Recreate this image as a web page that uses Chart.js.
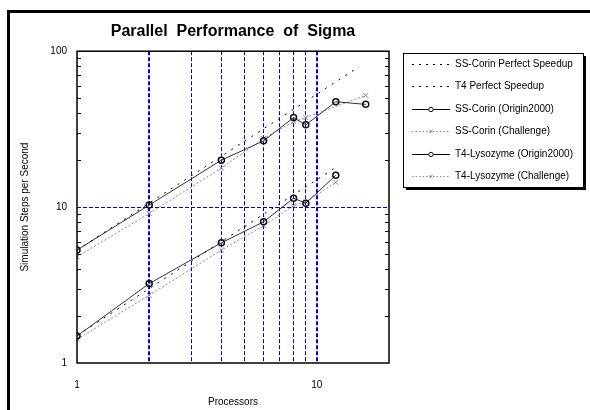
<!DOCTYPE html>
<html>
<head>
<meta charset="utf-8">
<script src="https://cdn.jsdelivr.net/npm/chart.js@4.4.1/dist/chart.umd.min.js"></script>
<style>
  html, body { margin: 0; padding: 0; background: #fff; }
  #wrap { width: 590px; height: 410px; position: relative; }
</style>
</head>
<body>
<div id="wrap"><canvas id="myChart"></canvas></div>
<script>
'use strict'

// processor counts for each run
const ssOriginProcs = [1, 2, 4, 6, 8, 9, 12, 16];
const ssChallengeProcs = [1, 2, 4, 6, 8, 9, 16];
const t4OriginProcs = [1, 2, 4, 6, 8, 9, 12];
const t4ChallengeProcs = [1, 2, 4, 6, 8, 9, 12];

// simulation steps per second
const ssOrigin = [5.3, 10.3, 20.0, 26.6, 37.5, 33.7, 47.4, 45.6];
const ssChallenge = [4.8, 9.1, 17.8, 27.5, 35.3, 37.5, 52.1];
const t4Origin = [1.49, 3.23, 5.9, 8.05, 11.4, 10.6, 16.0];
const t4Challenge = [1.42, 2.72, 5.3, 7.6, 10.2, 10.8, 14.4];

// perfect speedup lines (end points)
const ssPerfectProcs = [1, 15];
const ssPerfect = [5.3, 79.5];
const t4PerfectProcs = [1, 12];
const t4Perfect = [1.5, 18];

// axis ticks
const xTicks = [1, 2, 3, 4, 5, 6, 7, 8, 9, 10, 20];
const xLabels = [1, 10];
const yTicks = [1, 2, 3, 4, 5, 6, 7, 8, 9, 10, 20, 30, 40, 50, 60, 70, 80, 90, 100];
const yLabels = [1, 10, 100];
const yMinor = [2, 3, 4, 5, 6, 7, 8, 9, 20, 30, 40, 50, 60, 70, 80, 90];

const gridBlue = '#0000d8';
const fontName = '"Liberation Sans", Arial, sans-serif';

function points(xs, ys) {
  return xs.map((x, i) => ({ x: x, y: ys[i] }));
}

let datasets = [
  {
    label: 'SS-Corin Perfect Speedup',
    data: points(ssPerfectProcs, ssPerfect),
    borderColor: '#000', borderWidth: 1, borderDash: [2, 6],
    pointRadius: 0, legendKind: 'perfect'
  },
  {
    label: 'T4 Perfect Speedup',
    data: points(t4PerfectProcs, t4Perfect),
    borderColor: '#000', borderWidth: 1, borderDash: [2, 6],
    pointRadius: 0, legendKind: 'perfect'
  },
  {
    label: 'SS-Corin (Origin2000)',
    data: points(ssOriginProcs, ssOrigin),
    borderColor: '#333', borderWidth: 1,
    pointStyle: 'circle', pointRadius: 3, pointBorderWidth: 1.5,
    pointBorderColor: '#111', pointBackgroundColor: 'rgba(0,0,0,0)',
    legendKind: 'origin'
  },
  {
    label: 'SS-Corin (Challenge)',
    data: points(ssChallengeProcs, ssChallenge),
    borderColor: '#888', borderWidth: 1, borderDash: [2, 2],
    pointStyle: 'crossRot', pointRadius: 3.5, pointBorderWidth: 1,
    pointBorderColor: '#888', legendKind: 'challenge'
  },
  {
    label: 'T4-Lysozyme (Origin2000)',
    data: points(t4OriginProcs, t4Origin),
    borderColor: '#333', borderWidth: 1,
    pointStyle: 'circle', pointRadius: 3, pointBorderWidth: 1.5,
    pointBorderColor: '#111', pointBackgroundColor: 'rgba(0,0,0,0)',
    legendKind: 'origin'
  },
  {
    label: 'T4-Lysozyme (Challenge)',
    data: points(t4ChallengeProcs, t4Challenge),
    borderColor: '#888', borderWidth: 1, borderDash: [2, 2],
    pointStyle: 'crossRot', pointRadius: 3.5, pointBorderWidth: 1,
    pointBorderColor: '#888', legendKind: 'challenge'
  }
];

// frame, plot box, inner ticks and the boxed legend
const decorations = {
  id: 'decorations',
  beforeDraw(chart) {
    let ctx = chart.ctx;
    ctx.save();
    ctx.fillStyle = '#fff';
    ctx.fillRect(0, 0, chart.width, chart.height);
    ctx.strokeStyle = '#000';
    ctx.lineWidth = 3;
    ctx.strokeRect(8.5, 11.5, 700, 700);
    ctx.restore();
  },
  afterDraw(chart) {
    let ctx = chart.ctx;
    let area = chart.chartArea;
    let yScale = chart.scales.y;
    ctx.save();

    // plot box
    ctx.strokeStyle = '#000';
    ctx.lineWidth = 1.5;
    ctx.strokeRect(area.left, area.top, area.right - area.left, area.bottom - area.top);

    // minor ticks on both sides, pointing inward
    ctx.lineWidth = 1;
    ctx.beginPath();
    for (let i = 0; i < yMinor.length; i++) {
      let py = Math.round(yScale.getPixelForValue(yMinor[i])) + 0.5;
      ctx.moveTo(area.left, py);
      ctx.lineTo(area.left + 4, py);
      ctx.moveTo(area.right - 4, py);
      ctx.lineTo(area.right, py);
    }
    ctx.stroke();

    // legend box with shadow
    let bx = 403, by = 53, bw = 180, bh = 134;
    ctx.fillStyle = '#000';
    ctx.fillRect(bx + 3, by + 3, bw, bh);
    ctx.fillStyle = '#fff';
    ctx.fillRect(bx, by, bw, bh);
    ctx.strokeStyle = '#000';
    ctx.lineWidth = 1;
    ctx.strokeRect(bx + 0.5, by + 0.5, bw, bh);

    ctx.font = '10px ' + fontName;
    ctx.textBaseline = 'middle';
    ctx.textAlign = 'left';
    for (let i = 0; i < datasets.length; i++) {
      let ds = datasets[i];
      let ly = Math.round(64 + i * 22.4) + 0.5;
      ctx.save();
      ctx.strokeStyle = ds.borderColor;
      ctx.lineWidth = 1;
      if (ds.legendKind === 'perfect') ctx.setLineDash([2, 5]);
      else if (ds.legendKind === 'challenge') ctx.setLineDash([1.5, 2]);
      else ctx.setLineDash([]);
      if (ds.legendKind === 'origin') ctx.strokeStyle = '#000';
      ctx.beginPath();
      ctx.moveTo(412, ly);
      ctx.lineTo(450, ly);
      ctx.stroke();
      ctx.restore();
      if (ds.legendKind !== 'perfect') {
        ctx.save();
        ctx.fillStyle = '#fff';
        ctx.strokeStyle = ds.pointBorderColor;
        ctx.lineWidth = 1;
        Chart.helpers.drawPoint(ctx, {
          pointStyle: ds.pointStyle,
          radius: ds.legendKind === 'origin' ? 2.2 : 2.5,
          borderWidth: 1
        }, 431, ly);
        ctx.restore();
      }
      ctx.fillStyle = '#000';
      ctx.fillText(ds.label, 455, ly);
    }
    ctx.restore();
  }
};

const ctx = document.getElementById('myChart');

new Chart(ctx, {
  type: 'line',
  data: { datasets: datasets },
  plugins: [decorations],
  options: {
    responsive: true,
    maintainAspectRatio: false,
    animation: false,
    layout: { padding: { left: 0, top: 12, right: 201, bottom: 0 } },
    plugins: {
      legend: { display: false },
      tooltip: { enabled: false },
      title: {
        display: true,
        fullSize: false,
        text: 'Parallel  Performance  of  Sigma',
        color: '#000',
        font: { family: fontName, size: 16, weight: 'bold' },
        padding: { top: 10, bottom: 10 }
      }
    },
    scales: {
      x: {
        type: 'logarithmic',
        min: 1,
        max: 20,
        afterBuildTicks(scale) {
          scale.ticks = xTicks.map(v => ({ value: v }));
        },
        afterFit(scale) { scale.height = 47; },
        ticks: {
          autoSkip: false,
          maxRotation: 0,
          padding: 16,
          color: '#000',
          font: { family: fontName, size: 10 },
          callback: (v) => xLabels.includes(v) ? String(v) : ''
        },
        grid: {
          drawTicks: false,
          color: (c) => (c.tick && c.tick.value >= 2 && c.tick.value <= 10) ? gridBlue : 'rgba(0,0,0,0)',
          lineWidth: (c) => (c.tick && (c.tick.value === 2 || c.tick.value === 10)) ? 2 : 1
        },
        border: { display: false, dash: [4, 2] },
        title: {
          display: true,
          text: 'Processors',
          color: '#000',
          font: { family: fontName, size: 10 },
          padding: { top: 0, bottom: 2 }
        }
      },
      y: {
        type: 'logarithmic',
        min: 1,
        max: 100,
        afterBuildTicks(scale) {
          scale.ticks = yTicks.map(v => ({ value: v }));
        },
        afterFit(scale) { scale.width = 77; },
        ticks: {
          autoSkip: false,
          padding: 10,
          color: '#000',
          font: { family: fontName, size: 10 },
          callback: (v) => yLabels.includes(v) ? String(v) : ''
        },
        grid: {
          drawTicks: false,
          color: (c) => (c.tick && c.tick.value === 10) ? gridBlue : 'rgba(0,0,0,0)',
          lineWidth: 1
        },
        border: { display: false, dash: [4, 2] },
        title: {
          display: true,
          text: 'Simulation Steps per Second',
          color: '#000',
          font: { family: fontName, size: 10 },
          padding: { top: 19, bottom: 0 }
        }
      }
    }
  }
});
</script>
</body>
</html>
